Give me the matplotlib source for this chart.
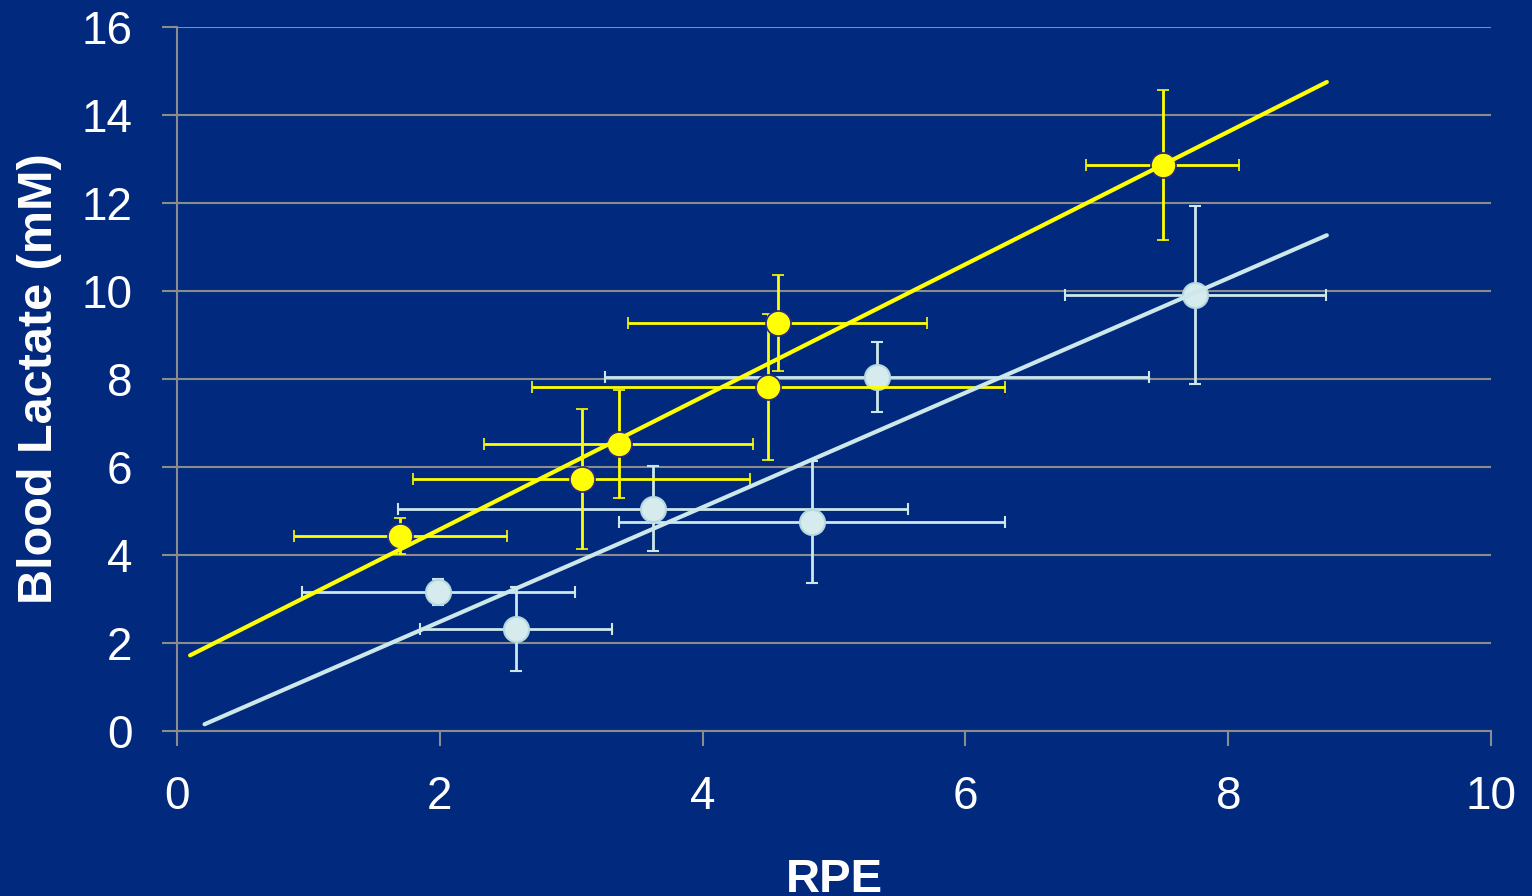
import matplotlib.pyplot as plt
import numpy as np

plt.rcParams['font.family'] = ['Liberation Sans', 'DejaVu Sans']

# yellow series
yel_x = [1.70, 3.08, 3.36, 4.50, 4.57, 7.50]
yel_y = [4.43, 5.73, 6.52, 7.82, 9.27, 12.86]
yel_xerr = [0.81, 1.28, 1.02, 1.80, 1.14, 0.58]
yel_yerr = [0.41, 1.59, 1.23, 1.66, 1.09, 1.70]
yel_fit_x = [0.10, 8.75]

# light blue series
blu_x = [1.99, 2.58, 3.62, 4.83, 5.33, 7.75]
blu_y = [3.16, 2.32, 5.05, 4.75, 8.05, 9.91]
blu_xerr = [1.04, 0.73, 1.94, 1.47, 2.07, 0.99]
blu_yerr = [0.30, 0.95, 0.97, 1.39, 0.80, 2.02]
blu_fit_x = [0.21, 8.75]

x_ticks = [0, 2, 4, 6, 8, 10]
y_ticks = [0, 2, 4, 6, 8, 10, 12, 14, 16]

bg = '#012A7F'
grid_col = '#8C8C8C'
yellow = '#FFFF00'
light = '#CDE8EB'

fig = plt.figure(figsize=(15.32, 8.96), dpi=100, facecolor=bg)
ax = fig.add_axes([0.1155, 0.1842, 0.8578, 0.7857], facecolor=bg)

# error bars + markers
ax.errorbar(blu_x, blu_y, xerr=blu_xerr, yerr=blu_yerr, fmt='o', color=light,
            ms=18, mfc='#D6EBED', mec='#B5D9DE', mew=1.5,
            elinewidth=2, capsize=4, capthick=2, zorder=3)
ax.errorbar(yel_x, yel_y, xerr=yel_xerr, yerr=yel_yerr, fmt='o', color=yellow,
            ms=18, mfc=yellow, mec='#2A2A80', mew=1.2,
            elinewidth=2, capsize=4, capthick=2, zorder=4)

# linear trend lines
for xs, ys, fx, c in [(blu_x, blu_y, blu_fit_x, light), (yel_x, yel_y, yel_fit_x, yellow)]:
    k, b = np.polyfit(xs, ys, 1)
    fx = np.array(fx)
    ax.plot(fx, k * fx + b, color=c, lw=3, solid_capstyle='round', zorder=5)

ax.set_xlim(0, 10)
ax.set_ylim(0, 16)
ax.set_xticks(x_ticks)
ax.set_yticks(y_ticks)
ax.grid(axis='y', color=grid_col, lw=1.5)
ax.set_axisbelow(True)
for s in ['top', 'right']:
    ax.spines[s].set_visible(False)
for s in ['left', 'bottom']:
    ax.spines[s].set_color(grid_col)
    ax.spines[s].set_linewidth(1.5)
ax.tick_params(colors=grid_col, length=11, width=1.5, labelsize=33,
               labelcolor='white', pad=21)

ax.set_xlabel('RPE', color='white', fontsize=34, fontweight='bold', labelpad=28)
ax.set_ylabel('Blood Lactate (mM)', color='white', fontsize=35,
              fontweight='bold', labelpad=14)

fig.savefig('out.png', dpi=100, facecolor=bg)
